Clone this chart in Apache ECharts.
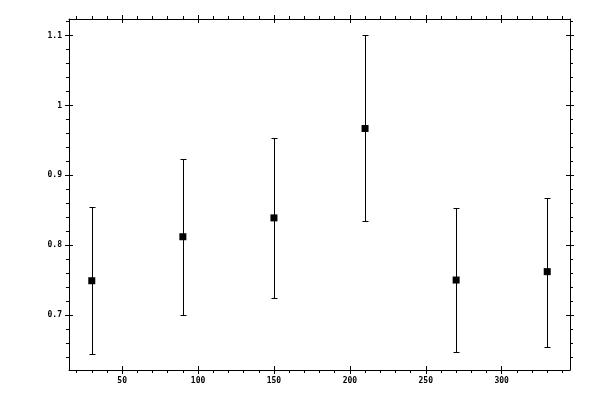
<!DOCTYPE html>
<html>
<head>
<meta charset="utf-8">
<title>error bars</title>
<script src="https://cdn.jsdelivr.net/npm/echarts@6/dist/echarts.min.js"></script>
<style>
html,body{margin:0;padding:0;background:#fff;}
#main{width:600px;height:400px;}
</style>
</head>
<body>
<div id="main"></div>
<script>
// data
var xValues=[30,90,150,210,270,330];
var yValues=[0.749,0.812,0.839,0.967,0.750,0.762];
var yLow=[0.644,0.700,0.724,0.835,0.647,0.654];
var yHigh=[0.855,0.924,0.954,1.101,0.853,0.868];

// tick labels
var xMajor=[50,100,150,200,250,300];
var yMajor=[0.7,0.8,0.9,1,1.1];

// 5% padding round the data, like the original plot
var xPad=(Math.max.apply(null,xValues)-Math.min.apply(null,xValues))*0.05;
var xMin=Math.min.apply(null,xValues)-xPad;
var xMax=Math.max.apply(null,xValues)+xPad;
var yPad=(Math.max.apply(null,yHigh)-Math.min.apply(null,yLow))*0.05;
var yMin=Math.min.apply(null,yLow)-yPad;
var yMax=Math.max.apply(null,yHigh)+yPad;

// minor ticks: every 10 on x, every 0.02 on y
var xMinor=[];
for(var v=20;v<xMax;v+=10){
    if(v%50!==0) xMinor.push(v);
}
var yMinor=[];
for(var k=32;k*0.02<yMax;k++){
    var mv=Math.round(k*2)/100;
    if(k%5!==0) yMinor.push(mv);
}

var lab={
    color:'#000',
    fontFamily:'DejaVu Sans Mono',
    fontSize:8,
    fontWeight:'bold',
    margin:7
};

function makeAxis(pos,min,max,ticks,len,inside,withLine,withLabel){
    var ax={
        type:'value',
        position:pos,
        min:min,
        max:max,
        splitLine:{show:false},
        axisLine:{show:withLine,onZero:false,lineStyle:{color:'#000',width:1}},
        axisTick:{show:true,inside:inside,length:len,customValues:ticks,lineStyle:{color:'#000',width:1}},
        axisLabel:{show:false}
    };
    if(withLabel){
        ax.axisLabel={show:true,customValues:ticks};
        for(var key in lab) ax.axisLabel[key]=lab[key];
    }
    return ax;
}

var xAxes=[
    makeAxis('bottom',xMin,xMax,xMajor,4,false,true,true),
    makeAxis('bottom',xMin,xMax,xMajor,4,true,false,false),
    makeAxis('bottom',xMin,xMax,xMinor,3,false,false,false),
    makeAxis('top',xMin,xMax,xMajor,4,false,true,false),
    makeAxis('top',xMin,xMax,xMajor,4,true,false,false),
    makeAxis('top',xMin,xMax,xMinor,3,false,false,false)
];
var yAxes=[
    makeAxis('left',yMin,yMax,yMajor,4,false,true,true),
    makeAxis('left',yMin,yMax,yMajor,4,true,false,false),
    makeAxis('left',yMin,yMax,yMinor,3,false,false,false),
    makeAxis('right',yMin,yMax,yMajor,4,false,true,false),
    makeAxis('right',yMin,yMax,yMajor,4,true,false,false),
    makeAxis('right',yMin,yMax,yMinor,3,false,false,false)
];

var points=[];
var bars=[];
for(var i=0;i<xValues.length;i++){
    points.push([xValues[i],yValues[i]]);
    bars.push([xValues[i],yLow[i],yHigh[i]]);
}

function renderBar(params,api){
    var x=api.value(0);
    var lo=api.coord([x,api.value(1)]);
    var hi=api.coord([x,api.value(2)]);
    // snap to the pixel grid so the 1px lines stay crisp
    var cx=Math.round(lo[0])+0.5;
    var yl=Math.round(lo[1])+0.5;
    var yh=Math.round(hi[1])+0.5;
    var w=3;
    var st={stroke:'#000',lineWidth:1};
    return {
        type:'group',
        children:[
            {type:'line',shape:{x1:cx,y1:yh,x2:cx,y2:yl},style:st},
            {type:'line',shape:{x1:cx-w,y1:yh,x2:cx+w,y2:yh},style:st},
            {type:'line',shape:{x1:cx-w,y1:yl,x2:cx+w,y2:yl},style:st}
        ]
    };
}

var myChart=echarts.init(document.getElementById('main'));
var option={
    backgroundColor:'#fff',
    animation:false,
    grid:{left:69,right:30,top:19,bottom:30,show:false},
    xAxis:xAxes,
    yAxis:yAxes,
    series:[
        {
            type:'custom',
            xAxisIndex:0,
            yAxisIndex:0,
            renderItem:renderBar,
            data:bars,
            z:2
        },
        {
            type:'scatter',
            xAxisIndex:0,
            yAxisIndex:0,
            symbol:'rect',
            symbolSize:7,
            itemStyle:{color:'#000',opacity:1},
            data:points,
            z:3
        }
    ]
};
myChart.setOption(option);
</script>
</body>
</html>
